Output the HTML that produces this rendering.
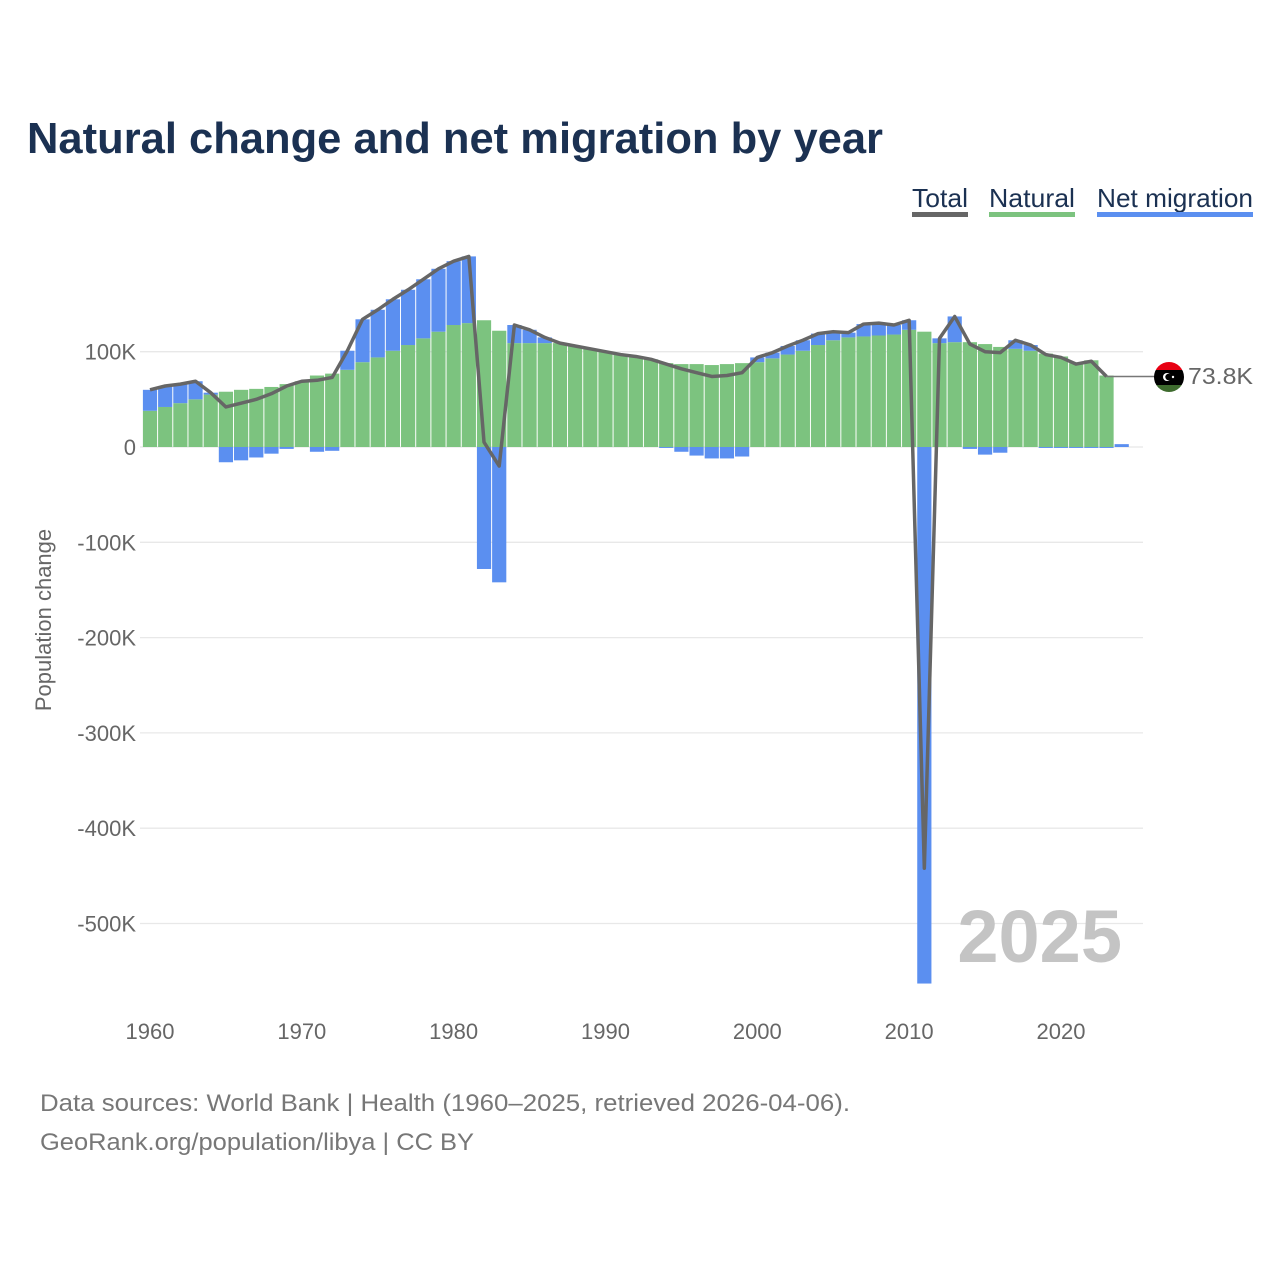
<!DOCTYPE html>
<html><head><meta charset="utf-8"><style>
html,body{margin:0;padding:0;background:#fff;width:1280px;height:1280px;overflow:hidden}
svg text{font-family:"Liberation Sans",sans-serif}
</style></head><body>
<svg id="chart" width="1280" height="1280" viewBox="0 0 1280 1280" xmlns="http://www.w3.org/2000/svg">
<text x="27" y="153" font-size="44" font-weight="bold" fill="#1b3152" textLength="856" lengthAdjust="spacingAndGlyphs">Natural change and net migration by year</text>
<g>
<g><text x="912" y="207" font-size="26" fill="#1b3152" textLength="56" lengthAdjust="spacingAndGlyphs">Total</text><rect x="912" y="212" width="56" height="5" fill="#666"/></g>
<g><text x="989" y="207" font-size="26" fill="#1b3152" textLength="86" lengthAdjust="spacingAndGlyphs">Natural</text><rect x="989" y="212" width="86" height="5" fill="#7cc37f"/></g>
<g><text x="1097" y="207" font-size="26" fill="#1b3152" textLength="156" lengthAdjust="spacingAndGlyphs">Net migration</text><rect x="1097" y="212" width="156" height="5" fill="#5b8ff0"/></g>
</g>
<g id="grid"></g>
<g id="bars"></g>
<g id="line"></g>
<g id="axes"></g>
<text transform="translate(51,620) rotate(-90)" text-anchor="middle" font-size="22" fill="#666">Population change</text>
<text x="1122" y="962" text-anchor="end" font-size="74" font-weight="bold" fill="#c4c4c4">2025</text>
<g>
<line id="connector" x1="1110" y1="377" x2="1155" y2="377" stroke="#777" stroke-width="1.5"/>
<clipPath id="fc"><circle cx="1169" cy="377" r="15"/></clipPath>
<g clip-path="url(#fc)">
<rect x="1154" y="362" width="30" height="8" fill="#e70013"/><rect x="1154" y="370" width="30" height="15" fill="#000"/><rect x="1154" y="385" width="30" height="8" fill="#3e6b2e"/>
<circle cx="1167" cy="377" r="4" fill="#fff"/><circle cx="1168.5" cy="377" r="3.2" fill="#000"/><circle cx="1173" cy="377" r="1.2" fill="#fff"/>
</g>
<text x="1188" y="384" font-size="23" fill="#666" textLength="65" lengthAdjust="spacingAndGlyphs">73.8K</text>
</g>
<text x="40" y="1111" font-size="24" fill="#777" textLength="810" lengthAdjust="spacingAndGlyphs">Data sources: World Bank | Health (1960–2025, retrieved 2026-04-06).</text>
<text x="40" y="1150" font-size="24" fill="#777" textLength="434" lengthAdjust="spacingAndGlyphs">GeoRank.org/population/libya | CC BY</text>
</svg>
<script>
const years = [];
for (let y = 1960; y <= 2024; y++) years.push(y);
const natural = [38,42,46,50,55,58,60,61,63,66,69,75,77,81,89,94,101,107,114,121,128,130,133,122,109,109,109,109,106,103,100,97,95,92,88,87,87,86,87,88,89,93,97,101,107,112,115,116,117,118,123,121,109,110,110,108,105,103,101,98,95,88,91,75,0];
const migration = [22,22,20,19,2,-16,-14,-11,-7,-2,0,-5,-4,20,45,50,54,58,62,66,67,70,-128,-142,19,14,6,0,0,0,0,0,0,0,-1,-5,-9,-12,-12,-10,5,6,9,11,12,9,5,13,13,10,10,-563,5,27,-2,-8,-6,9,6,-1,-1,-1,-1,-1,3];
const yTicks = [100000,0,-100000,-200000,-300000,-400000,-500000];
const yTickLabels = ["100K","0","-100K","-200K","-300K","-400K","-500K"];
const xTicks = [1960,1970,1980,1990,2000,2010,2020];
const lastLineYear = 2023;

const NS = "http://www.w3.org/2000/svg";
const X = yr => 150 + (yr - 1960) * 15.183;
const Y = v => 447 - v * 0.000953;
function mk(tag, attrs, parent) {
  const e = document.createElementNS(NS, tag);
  for (const k in attrs) e.setAttribute(k, attrs[k]);
  parent.appendChild(e); return e;
}
const grid = document.getElementById('grid'), bars = document.getElementById('bars'),
      line = document.getElementById('line'), axes = document.getElementById('axes');
yTicks.forEach((t, i) => {
  const g = mk('line', {x1:140, x2:1143, y1:Y(t), y2:Y(t), stroke:'#e8e8e8', 'stroke-width':1.3}, grid);
  
  
  const tx = mk('text', {x:136, y:Y(t)+8, 'text-anchor':'end', 'font-size':22, fill:'#666'}, axes);
  tx.textContent = yTickLabels[i];
  
  
});
xTicks.forEach(t => {
  const tx = mk('text', {x:X(t), y:1039, 'text-anchor':'middle', 'font-size':22, fill:'#666'}, axes);
  tx.textContent = t;
  
  
});
const bw = 14.2;
years.forEach((yr, i) => {
  const n = natural[i] * 1000, m = migration[i] * 1000;
  const x = X(yr) - bw / 2;
  if (n > 0) {
    const r = mk('rect', {x:x, y:Y(n), width:bw, height:Y(0)-Y(n), fill:'#7cc37f'}, bars);
    
    
  }
  if (m !== 0) {
    const base = m > 0 ? Math.max(n, 0) : 0;
    const top = Y(base + m), bot = Y(base);
    const r = mk('rect', {x:x, y:Math.min(top, bot), width:bw, height:Math.abs(bot - top), fill:'#5b8ff0'}, bars);
    
    
  }
});
const pts = [];
years.forEach((yr, i) => { if (yr <= lastLineYear) pts.push(X(yr) + ',' + Y((natural[i] + migration[i]) * 1000)); });
const pl = mk('polyline', {points:pts.join(' '), fill:'none', stroke:'#666', 'stroke-width':3.5, 'stroke-linejoin':'round'}, line);


const li = years.indexOf(lastLineYear);
const ly = Y((natural[li] + migration[li]) * 1000);
const c = document.getElementById('connector');
c.setAttribute('x1', X(lastLineYear)); c.setAttribute('y1', ly); c.setAttribute('y2', ly);
</script>
</body></html>
